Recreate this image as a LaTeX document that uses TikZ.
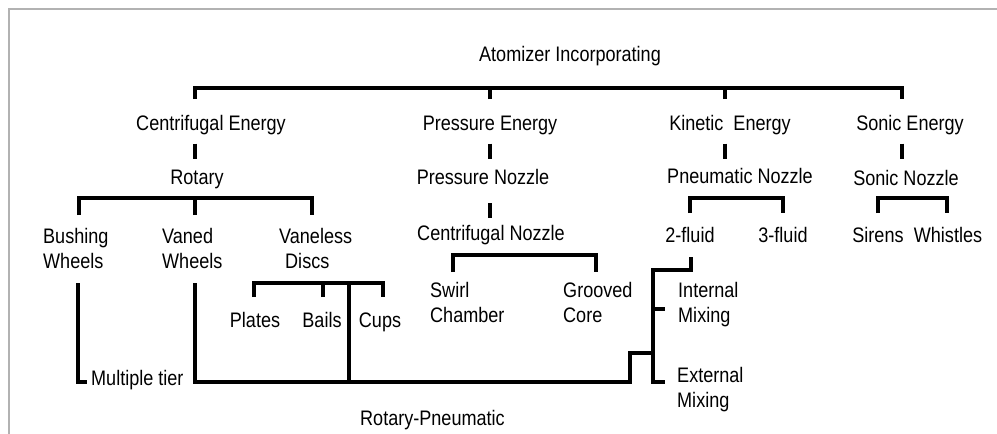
\documentclass[tikz,border=0pt]{standalone}
\usepackage{fontspec}
\setmainfont{Liberation Sans}[FakeStretch=0.86]

\tikzset{
  lbl/.style={inner sep=0pt, anchor=base, font=\fontsize{21}{25}\selectfont},
  lbll/.style={lbl, anchor=base west, align=left},
  br/.style={line width=3.2pt},
}

\begin{document}
\begin{tikzpicture}[x=1pt,y=-1pt]
    \useasboundingbox (0,0) rectangle (997,434);
    \draw[black!30, line width=2pt] (997,9) -- (9,9) -- (9,434);

    \node[lbl] (atom) at (570,61) {Atomizer Incorporating};
    \node[lbl] (cent) at (211,130) {Centrifugal Energy};
    \node[lbl] (press) at (490,130) {Pressure Energy};
    \node[lbl] (kin) at (730,130) {Kinetic\ \ Energy};
    \node[lbl] (sonic) at (910,130) {Sonic Energy};
    \node[lbl] (rot) at (197,184) {Rotary};
    \node[lbl] (pnoz) at (483,184) {Pressure Nozzle};
    \node[lbl] (pneu) at (740,183) {Pneumatic Nozzle};
    \node[lbl] (snoz) at (906,185) {Sonic Nozzle};
    \node[lbll] (bush) at (43,268) {Bushing\\Wheels};
    \node[lbll] (vaned) at (162,268) {Vaned\\Wheels};
    \node[lbll] (vless) at (279,268) {Vaneless\\\hspace{6pt}Discs};
    \node[lbl] (cnoz) at (491,240) {Centrifugal Nozzle};
    \node[lbl] (two) at (690,242) {2-fluid};
    \node[lbl] (three) at (783,242) {3-fluid};
    \node[lbl] (sirens) at (878,242) {Sirens};
    \node[lbl] (whist) at (948,242) {Whistles};
    \node[lbl] (plates) at (255,327) {Plates};
    \node[lbl] (bails) at (322,327) {Bails};
    \node[lbl] (cups) at (380,327) {Cups};
    \node[lbll] (swirl) at (430,322) {Swirl\\Chamber};
    \node[lbll] (groove) at (563,322) {Grooved\\Core};
    \node[lbll] (intmix) at (678,322) {Internal\\Mixing};
    \node[lbll] (extmix) at (677,407) {External\\Mixing};
    \node[lbll] (multi) at (91,385) {Multiple tier};
    \node[lbll] (rotpn) at (360,425) {Rotary-Pneumatic};

    \coordinate (c1) at (195,99);
    \coordinate (c2) at (490,99);
    \coordinate (c3) at (725,99);
    \coordinate (c4) at (902,99);
    \draw[br] (c1) -- ++(0,-11) -| (c4);
    \draw[br] (c2) -- ++(0,-11);
    \draw[br] (c3) -- ++(0,-11);
    \draw[br] (c1 |- cent.south) ++(0,9) -- ++(0,15);
    \draw[br] (c2 |- press.south) ++(0,9) -- ++(0,15);
    \draw[br] (c3 |- kin.south) ++(0,9) -- ++(0,15);
    \draw[br] (c4 |- sonic.south) ++(0,9) -- ++(0,15);

    \coordinate (r1) at (79,215);
    \coordinate (r2) at (195,215);
    \coordinate (r3) at (312,215);
    \draw[br] (r1) -- ++(0,-17) -| (r3);
    \draw[br] (r2) -- ++(0,-17);

    \coordinate (p1) at (490,203);
    \draw[br] (p1) -- ++(0,15);

    \coordinate (n1) at (690,213);
    \coordinate (n2) at (783,213);
    \draw[br] (n1) -- ++(0,-15) -| (n2);
    \coordinate (s1) at (878,213);
    \coordinate (s2) at (947,213);
    \draw[br] (s1) -- ++(0,-15) -| (s2);

    \coordinate (z1) at (453,272);
    \coordinate (z2) at (596,272);
    \draw[br] (z1) -- ++(0,-17) -| (z2);

    \coordinate (v1) at (254,297);
    \coordinate (v2) at (323,297);
    \coordinate (v3) at (383,297);
    \coordinate (v4) at (349,283);
    \draw[br] (v1) -- ++(0,-14) -| (v3);
    \draw[br] (v2) -- ++(0,-14);

    \coordinate (m1) at (78,283);
    \coordinate (m2) at (87,382);
    \draw[br] (m1) |- (m2);
    \coordinate (w1) at (195,283);
    \coordinate (w2) at (630,382);
    \draw[br] (w1) |- (w2) -- ++(0,-29) -- ++(23,0);
    \draw[br] (v4) -- (v4 |- w2);

    \coordinate (f1) at (691,257);
    \coordinate (f2) at (665,382);
    \coordinate (f3) at (653,309);
    \draw[br] (f1) -- ++(0,13) -| ([xshift=-12pt]f2) -- (f2);
    \draw[br] (f3) -- ++(12,0);
\end{tikzpicture}
\end{document}
